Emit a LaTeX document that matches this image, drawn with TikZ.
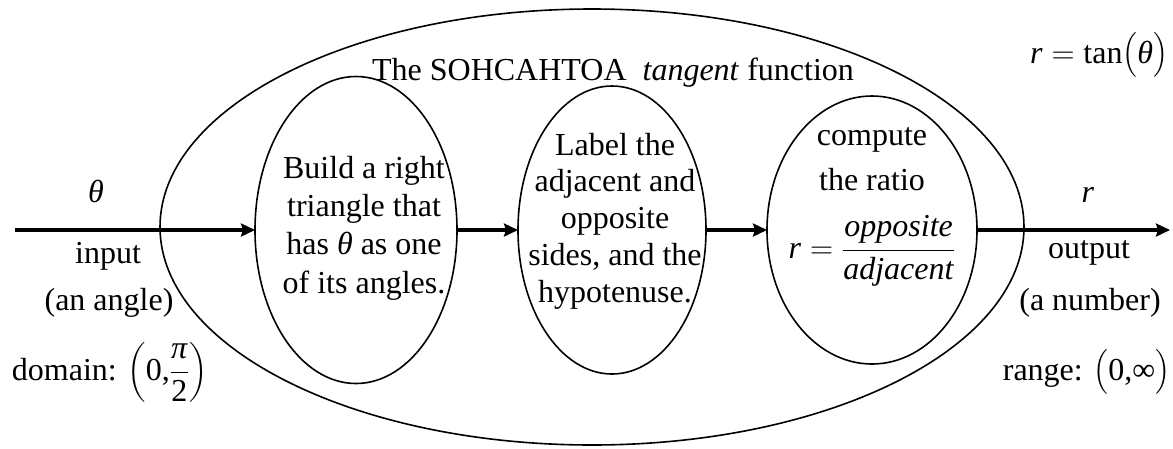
\RequirePackage{fix-cm}
\documentclass[tikz,border=0pt]{standalone}
\usepackage{amsmath}
\usepackage{fontspec}
\setmainfont{Liberation Serif}
\usetikzlibrary{shapes.geometric,arrows.meta}
\begin{document}
\begin{tikzpicture}[x=1pt,y=-1pt,
  every node/.style={inner sep=0pt, outer sep=0pt, font=\fontsize{32}{37}\selectfont},
  bubble/.style={draw, line width=1.6pt, ellipse},
  flow/.style={line width=4.5pt, -{Stealth[length=14pt,width=13pt,inset=2pt]}},
  lbl/.style={anchor=base}]
\useasboundingbox (0,0) rectangle (1173,448);
% shapes
\node[bubble, minimum width=864pt, minimum height=436pt] (outer) at (592,227) {};
\node[bubble, minimum width=202pt, minimum height=307pt] (e1) at (356,230) {};
\node[bubble, minimum width=188pt, minimum height=288pt] (e2) at (612,230) {};
\node[bubble, minimum width=210pt, minimum height=268pt] (e3) at (872,230) {};
% free ends
\coordinate (src) at (15,230);
\coordinate (dst) at (1170,230);
% connectors
\draw[flow] (src) -- (e1.west);
\draw[flow] (e1.east) -- (e2.west);
\draw[flow] (e2.east) -- (e3.west);
\draw[flow] (e3.east) -- (dst);
% texts
\node[lbl] (title) at (613,80) {The SOHCAHTOA\ \ \textit{tangent} function};
\node[lbl] (theta) at (96,202) {\textit{θ}};
\node[lbl] (input) at (108,263) {input};
\node[lbl] (angle) at (109,310) {(an angle)};
\node[anchor=base west] (domain) at (12,380) {domain: $\left(\mbox{0,}\dfrac{\mbox{\textit{π}}}{\mbox{2}}\right)$};
\node[lbl] (rout) at (1088,202) {\textit{r}};
\node[lbl] (output) at (1089,258) {output};
\node[lbl] (number) at (1090,310) {(a number)};
\node[anchor=base east] (range) at (1170,380) {range: $\bigl(\mbox{0,∞}\bigr)$};
\node[anchor=base east] (formula) at (1168,63) {$\mbox{\textit{r}}=\mbox{tan}\bigl(\mbox{\textit{θ}}\bigr)$};
\node[align=center, font=\fontsize{32}{38.3}\selectfont] (t1) at (364,228) {Build a right\\triangle that\\has \textit{θ} as one\\of its angles.};
\node[align=center, font=\fontsize{32}{36.8}\selectfont] (t2) at (615,221) {Label the\\adjacent and\\opposite\\sides, and the\\hypotenuse.};
\node[lbl] (t3a) at (872,145) {compute};
\node[lbl] (t3b) at (872,190) {the ratio};
\node[lbl] (t3c) at (872,258) {$\mbox{\textit{r}}=\dfrac{\mbox{\textit{opposite}}}{\mbox{\textit{adjacent}}}$};
\end{tikzpicture}
\end{document}
